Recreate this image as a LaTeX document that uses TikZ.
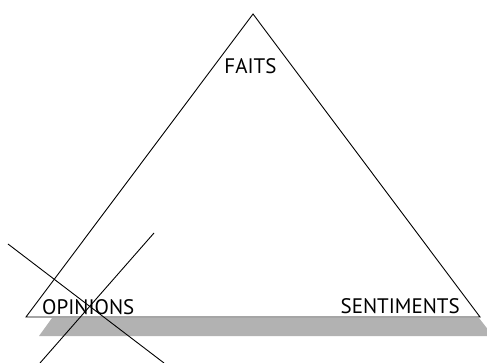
\documentclass[tikz,border=0pt]{standalone}
\usepackage{fontspec}
\setmainfont{PT Sans}
\begin{document}
\begin{tikzpicture}[x=1pt, y=-1pt,
    corner/.style={inner sep=0pt, font=\fontsize{21}{21}\selectfont}]
    \useasboundingbox (0,0) rectangle (487,363);

    % Shadow
    \fill[black!30] (52,318) -- (479,318) -- (493,336) -- (39,336) -- cycle;

    % Triangle
    \coordinate (top) at (253,14);
    \coordinate (left) at (26,317);
    \coordinate (right) at (480,317);
    \draw[line width=0.9pt] (top) -- (right) -- (left) -- cycle;

    % Labels
    \node[corner, anchor=base] (faits) at (250.5,74) {FAITS};
    \node[corner, anchor=base west] (opinions) at (42,314) {OPINIONS};
    \node[corner, anchor=base east] (sentiments) at (460,313) {SENTIMENTS};

    % Cross
    \coordinate (a1) at (8,244);
    \coordinate (a2) at (164,363);
    \coordinate (b1) at (154,233);
    \coordinate (b2) at (40,363);
    \draw[line width=0.9pt] (a1) -- (a2);
    \draw[line width=0.9pt] (b1) -- (b2);
\end{tikzpicture}
\end{document}
